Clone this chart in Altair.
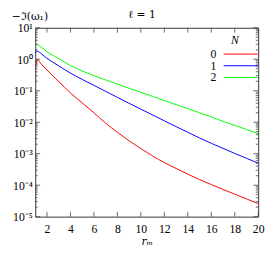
import altair as alt
import pandas as pd

# ---- data ----
r_m = [1, 1.17, 1.5, 2, 3, 4, 5, 6, 7, 8, 9, 10, 11, 12, 13, 14, 15, 16, 17, 18, 19, 20]
n0 = [0.51, 0.98, 0.71, 0.457, 0.195, 0.085, 0.041, 0.020, 0.0093, 0.0048, 0.00257, 0.00145,
      0.00085, 0.00052, 0.00034, 0.000224, 0.000151, 0.000105, 0.0000733, 0.0000519,
      0.0000367, 0.000026]
n1 = [1.57, 1.81, 1.51, 1.07, 0.617, 0.363, 0.229, 0.148, 0.0955, 0.0617, 0.0398, 0.026,
      0.0170, 0.0111, 0.00724, 0.00479, 0.00316, 0.00214, 0.00148, 0.00102, 0.000716, 0.0005]
n2 = [2.57, 2.91, 2.45, 1.74, 1.05, 0.63, 0.422, 0.302, 0.219, 0.162, 0.120, 0.089,
      0.066, 0.049, 0.0363, 0.0269, 0.020, 0.0148, 0.0107, 0.0079, 0.0059, 0.0043]
series_names = ["0", "1", "2"]
series_colors = ["#ff0000", "#0000ff", "#00ff00"]
legend_title = ["N"]

x_ticks = [2, 4, 6, 8, 10, 12, 14, 16, 18, 20]
y_major = [1e-5, 1e-4, 1e-3, 1e-2, 1e-1, 1, 10]
y_labels = ["10⁻⁵", "10⁻⁴", "10⁻³", "10⁻²", "10⁻¹", "10⁰", "10¹"]
minor_mult = [2, 3, 4, 5, 6, 7, 8, 9]

W, H = 229, 194
FONT = "Liberation Serif"
SYM_FONT = "DejaVu Serif"

rows = []
for name, vals in zip(series_names, [n0, n1, n2]):
    for x, v in zip(r_m, vals):
        rows.append({"r": x, "v": v, "N": name})
df = pd.DataFrame(rows)

y_minor = [m * d for d in y_major[:-1] for m in minor_mult]
df_ymaj = pd.DataFrame({"v": y_major})
df_ymin = pd.DataFrame({"v": y_minor})
df_xt = pd.DataFrame({"r": x_ticks})

xscale = alt.Scale(domain=[1, 20], nice=False, zero=False)
yscale = alt.Scale(type="log", domain=[1e-5, 10], nice=False)

label_expr = "[" + ",".join("'%s'" % s for s in y_labels) + "][round(log(datum.value)/LN10)+5]"

x_axis = alt.Axis(values=x_ticks, labelOverlap=False, labelFlush=False, ticks=False,
                  domain=False, grid=False, labelFont=FONT, labelFontSize=12,
                  labelColor="#000", labelPadding=7, title="rₘ", titleFont=SYM_FONT,
                  titleFontSize=11, titleFontWeight="normal", titleFontStyle="italic",
                  titlePadding=2, titleColor="#000")
y_axis = alt.Axis(values=y_major, labelExpr=label_expr, labelOverlap=False, ticks=False,
                  domain=False, grid=False, labelFont=FONT, labelFontSize=12,
                  labelColor="#000", labelPadding=3, title="−ℑ(ω₁)", titleAngle=0,
                  titleAlign="center", titleBaseline="middle", titleX=-6, titleY=-11,
                  titleFont=SYM_FONT, titleFontSize=11, titleFontWeight="normal",
                  titleColor="#000")

lines = alt.Chart(df).mark_line(strokeWidth=1, interpolate="monotone", clip=True).encode(
    x=alt.X("r:Q", scale=xscale, axis=x_axis),
    y=alt.Y("v:Q", scale=yscale, axis=y_axis),
    color=alt.Color("N:N", scale=alt.Scale(domain=series_names, range=series_colors),
                    legend=alt.Legend(title=None, orient="none", legendX=205, legendY=21,
                                      symbolType="M-5,0H5", symbolSize=49,
                                      symbolStrokeWidth=1, labelAlign="right",
                                      labelOffset={"expr": "-31"}, labelFont=FONT,
                                      labelFontSize=12, labelColor="#000",
                                      rowPadding={"expr": "-2"})),
)

# legend heading "N" (italic), placed above the legend entries
legend_head = alt.Chart(pd.DataFrame({"t": legend_title})).mark_text(
    font=FONT, fontSize=12, fontStyle="italic", color="#000", align="center",
    baseline="middle").encode(text="t:N", x=alt.value(W - 24), y=alt.value(13))

tick_color = "#444"

def yticks(data, length, side):
    if side == "left":
        xa, xb = 0, length
    else:
        xa, xb = W, W - length
    return alt.Chart(data).mark_rule(color=tick_color, strokeWidth=0.8).encode(
        y=alt.Y("v:Q", scale=yscale, axis=y_axis), x=alt.value(xa), x2=alt.value(xb))

def xticks(side, length=5):
    if side == "bottom":
        ya, yb = H, H - length
    else:
        ya, yb = 0, length
    return alt.Chart(df_xt).mark_rule(color=tick_color, strokeWidth=0.8).encode(
        x=alt.X("r:Q", scale=xscale, axis=x_axis), y=alt.value(ya), y2=alt.value(yb))

chart = alt.layer(
    lines,
    yticks(df_ymaj, 5, "left"), yticks(df_ymaj, 5, "right"),
    yticks(df_ymin, 2.5, "left"), yticks(df_ymin, 2.5, "right"),
    xticks("bottom"), xticks("top"),
    legend_head,
).properties(
    width=W, height=H,
    title=alt.TitleParams("ℓ = 1", font=SYM_FONT, fontSize=11, fontWeight="normal",
                          color="#000", anchor="middle", dx=-5, offset={"expr": "-9"}),
    autosize=alt.AutoSizeParams(type="none"),
    padding={"left": 28, "top": 17, "right": 8, "bottom": 34},
).configure_axis(
    labelOverlap=False, labelFlush=False,
).configure_view(stroke="#333", strokeWidth=1)

chart.save("out.html", embed_options={"renderer": "svg", "actions": False})
